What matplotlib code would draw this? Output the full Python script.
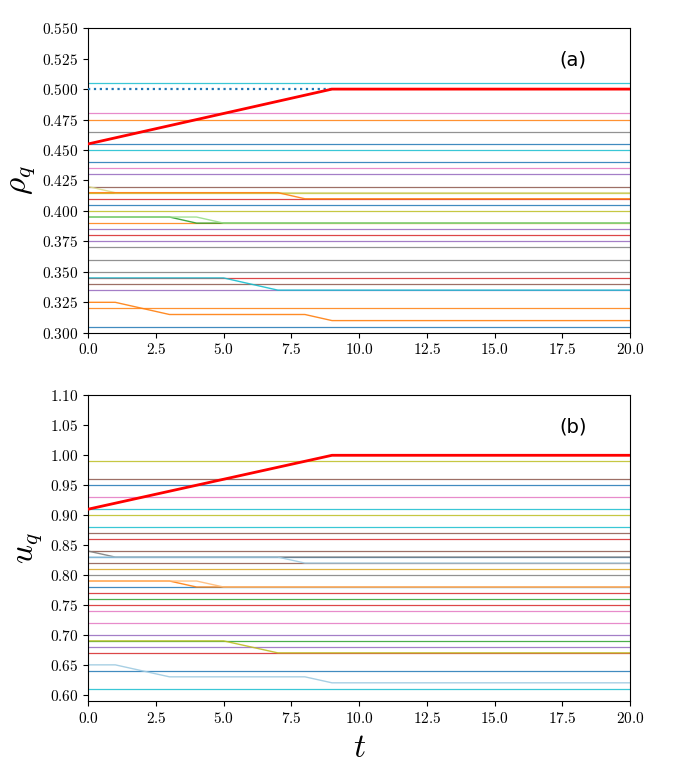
import numpy as np
import matplotlib
matplotlib.use('Agg')
import matplotlib.pyplot as plt
from matplotlib.ticker import FuncFormatter

plt.rcParams['mathtext.fontset'] = 'cm'

# time axis
t_end = 20.0

# panel (a): flat levels and their colours
rho_levels = [0.505, 0.48, 0.475, 0.465, 0.455, 0.45, 0.44, 0.435, 0.43, 0.42,
              0.415, 0.41, 0.405, 0.40, 0.39, 0.385, 0.38, 0.375, 0.37, 0.36,
              0.35, 0.345, 0.34, 0.335, 0.32, 0.305]
rho_colors = ['tab:cyan', 'tab:pink', 'tab:orange', 'tab:gray', 'tab:blue', 'tab:cyan',
              'tab:blue', 'tab:pink', 'tab:purple', 'tab:brown', 'tab:olive', 'tab:red',
              'tab:blue', 'tab:olive', 'tab:orange', 'tab:purple', 'tab:red', 'tab:purple',
              'tab:gray', 'tab:gray', 'tab:gray', 'tab:red', 'tab:brown', 'tab:purple',
              'tab:orange', 'tab:blue']

# panel (a): levels that move
rho_moving_t = [[0, 1, 20], [0, 7, 8, 20], [0, 3, 4, 20], [0, 4, 5, 20],
                [0, 5, 7, 20], [0, 1, 3, 8, 9, 20]]
rho_moving_v = [[0.42, 0.415, 0.415], [0.415, 0.415, 0.41, 0.41],
                [0.395, 0.395, 0.39, 0.39], [0.395, 0.395, 0.39, 0.39],
                [0.345, 0.345, 0.335, 0.335], [0.325, 0.325, 0.315, 0.315, 0.31, 0.31]]
rho_moving_c = ['#dbdb8d', 'tab:orange', 'tab:green', '#98df8a', 'tab:cyan', 'tab:orange']

rho_red_t = [0, 9, 20]
rho_red_v = [0.455, 0.5, 0.5]
rho_dotted = 0.5

# panel (b)
u_levels = [0.99, 0.96, 0.95, 0.93, 0.91, 0.90, 0.88, 0.87, 0.86, 0.84, 0.83, 0.82,
            0.81, 0.80, 0.78, 0.77, 0.76, 0.75, 0.74, 0.72, 0.70, 0.69, 0.68, 0.67,
            0.64, 0.61]
u_colors = ['tab:olive', 'tab:brown', 'tab:blue', 'tab:pink', 'tab:cyan', 'tab:olive',
            'tab:cyan', 'tab:brown', 'tab:red', 'tab:brown', 'tab:blue', 'tab:brown',
            'goldenrod', 'tab:gray', 'tab:blue', 'tab:red', 'tab:green', 'tab:red',
            'tab:pink', 'tab:pink', 'tab:purple', 'tab:green', 'tab:purple', 'tab:red',
            'tab:blue', 'tab:cyan']

u_moving_t = [[0, 1, 20], [0, 7, 8, 20], [0, 3, 4, 20], [0, 4, 5, 20],
              [0, 5, 7, 20], [0, 1, 3, 8, 9, 20]]
u_moving_v = [[0.84, 0.83, 0.83], [0.83, 0.83, 0.82, 0.82],
              [0.79, 0.79, 0.78, 0.78], [0.79, 0.79, 0.78, 0.78],
              [0.69, 0.69, 0.67, 0.67], [0.65, 0.65, 0.63, 0.63, 0.62, 0.62]]
u_moving_c = ['tab:gray', '#9ecae1', 'tab:orange', '#ffbb78', 'tab:olive', '#9ecae1']

u_red_t = [0, 9, 20]
u_red_v = [0.91, 1.0, 1.0]


def draw_panel(ax, levels, colors, mov_t, mov_v, mov_c, red_t, red_v):
    for v, c in zip(levels, colors):
        ax.plot([0, t_end], [v, v], color=c, lw=0.9, alpha=0.85)
    for tt, vv, c in zip(mov_t, mov_v, mov_c):
        ax.plot(tt, vv, color=c, lw=1.0, alpha=0.9)
    ax.plot(red_t, red_v, color='red', lw=2.0, zorder=5)


fig = plt.figure(figsize=(7.0, 7.83), dpi=100)
ax1 = fig.add_axes([0.126, 0.575, 0.774, 0.389])
ax2 = fig.add_axes([0.126, 0.105, 0.774, 0.390])

draw_panel(ax1, rho_levels, rho_colors, rho_moving_t, rho_moving_v, rho_moving_c,
           rho_red_t, rho_red_v)
ax1.plot([0, 9], [rho_dotted, rho_dotted], color='tab:blue', lw=1.6, ls=':', zorder=4)
draw_panel(ax2, u_levels, u_colors, u_moving_t, u_moving_v, u_moving_c,
           u_red_t, u_red_v)

ax1.set_xlim(0, 20)
ax1.set_ylim(0.3, 0.55)
ax1.set_yticks(np.arange(0.300, 0.5501, 0.025))
ax1.yaxis.set_major_formatter(FuncFormatter(lambda v, p: f'${v:.3f}$'))
ax1.set_ylabel(r'$\rho_q$', fontsize=24)
ax1.text(0.895, 0.895, '(a)', transform=ax1.transAxes, fontsize=14,
         family='DejaVu Sans', ha='center', va='center')

ax2.set_xlim(0, 20)
ax2.set_ylim(0.59, 1.10)
ax2.set_yticks(np.arange(0.60, 1.1001, 0.05))
ax2.yaxis.set_major_formatter(FuncFormatter(lambda v, p: f'${v:.2f}$'))
ax2.set_ylabel(r'$u_q$', fontsize=24)
ax2.set_xlabel(r'$t$', fontsize=24)
ax2.text(0.895, 0.895, '(b)', transform=ax2.transAxes, fontsize=14,
         family='DejaVu Sans', ha='center', va='center')

for ax in (ax1, ax2):
    ax.set_xticks(np.arange(0, 20.01, 2.5))
    ax.xaxis.set_major_formatter(FuncFormatter(lambda v, p: f'${v:.1f}$'))
    ax.tick_params(labelsize=11)

fig.savefig('out.png', dpi=100)
